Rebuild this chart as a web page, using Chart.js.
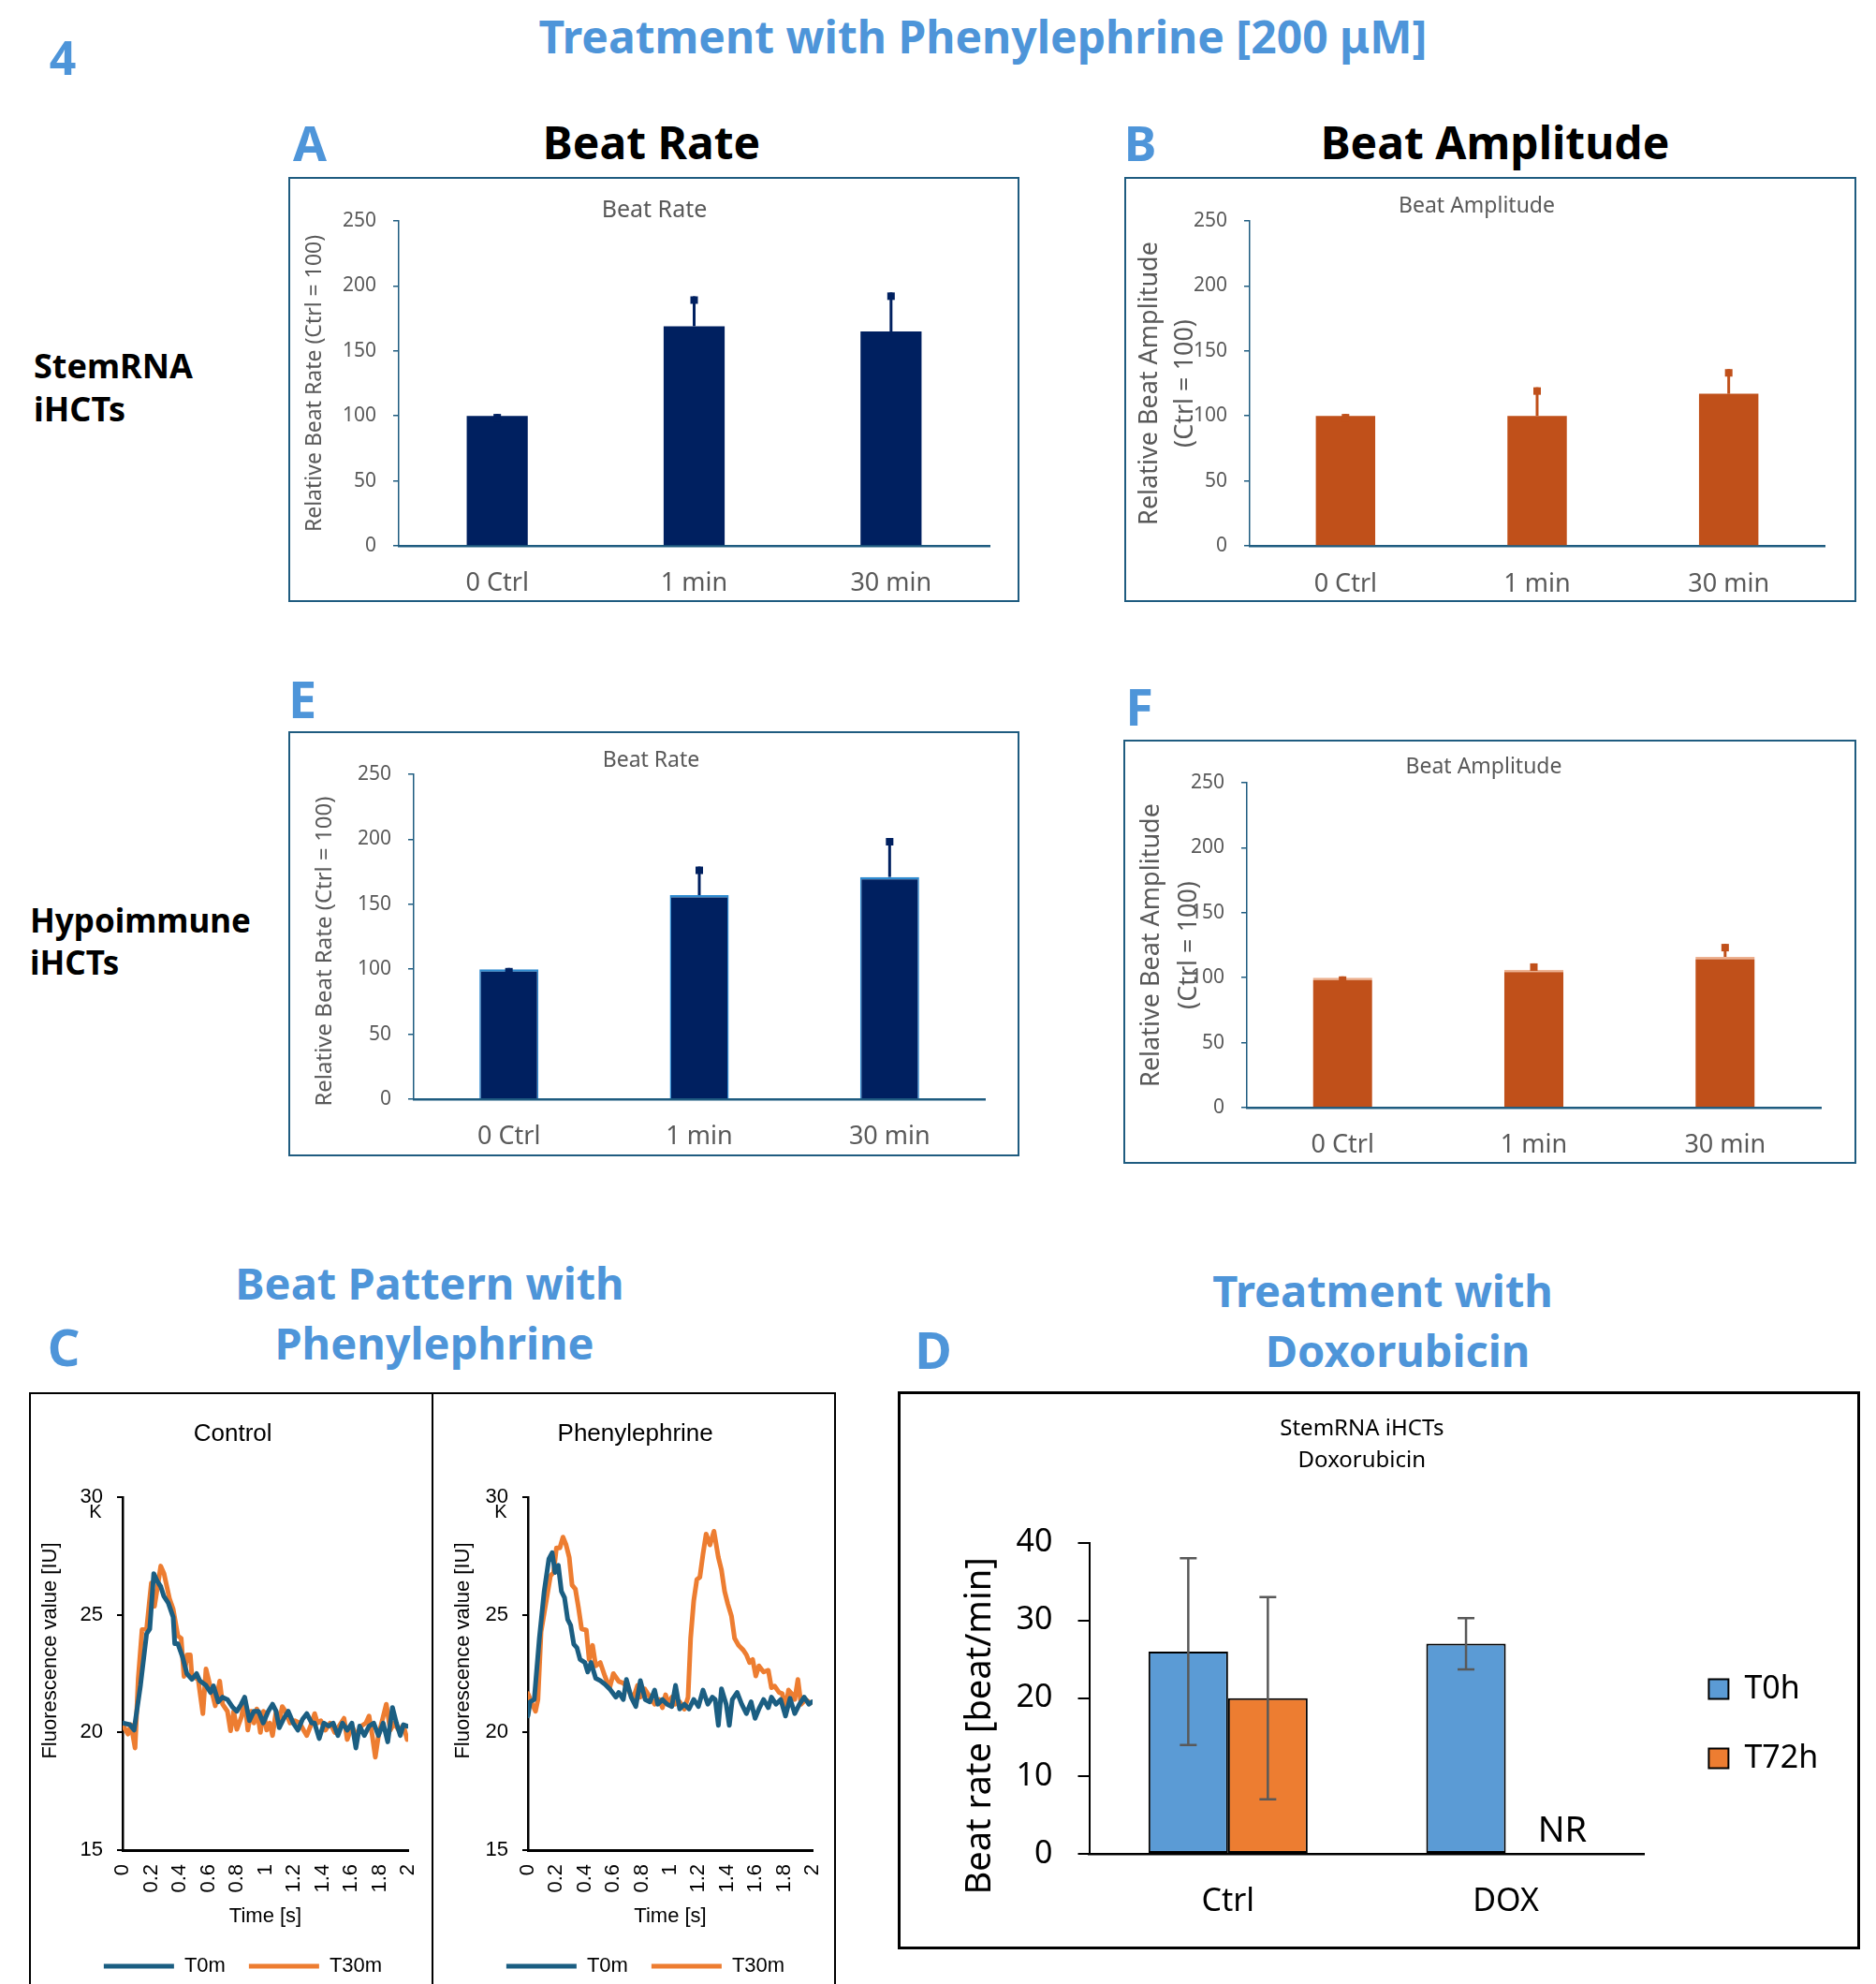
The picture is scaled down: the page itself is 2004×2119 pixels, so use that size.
<!DOCTYPE html>
<html>
<head>
<meta charset="utf-8">
<script src="https://cdn.jsdelivr.net/npm/chart.js@4.4.1/dist/chart.umd.min.js"></script>
<style>
  html, body { margin: 0; padding: 0; background: #fff; overflow: hidden; width: 2004px; height: 2119px; }
  .t { position: absolute; white-space: nowrap; line-height: 1; font-family: "Noto Sans", sans-serif; }
  .c { transform: translate(-50%, -50%); }
  .l { transform: translate(0, -50%); }
  .blue { color: #4E95D9; font-weight: 700; }
  .blk { color: #000; font-weight: 700; }
  .box { position: absolute; box-sizing: border-box; }
  canvas { position: absolute; }
</style>
</head>
<body>
<div class="t c blue" style="left:67px;top:61px;font-size:50px">4</div>
<div class="t c blue" style="left:1050px;top:39px;font-size:48px">Treatment with Phenylephrine [200 μM]</div>
<div class="t c blue" style="left:331px;top:152px;font-size:52px">A</div>
<div class="t c blk" style="left:696px;top:152px;font-size:48px">Beat Rate</div>
<div class="t c blue" style="left:1218px;top:152px;font-size:52px">B</div>
<div class="t c blk" style="left:1597px;top:152px;font-size:48px">Beat Amplitude</div>
<div class="t l blk" style="left:36px;top:391px;font-size:36px">StemRNA</div>
<div class="t l blk" style="left:36px;top:437px;font-size:36px">iHCTs</div>
<div class="t c blue" style="left:323px;top:746px;font-size:54px">E</div>
<div class="t c blue" style="left:1217px;top:754px;font-size:54px">F</div>
<div class="t l blk" style="left:32px;top:982px;font-size:35px">Hypoimmune</div>
<div class="t l blk" style="left:32px;top:1027px;font-size:35px">iHCTs</div>
<div class="t c blue" style="left:459px;top:1370px;font-size:47px">Beat Pattern with</div>
<div class="t c blue" style="left:464px;top:1434px;font-size:47px">Phenylephrine</div>
<div class="t c blue" style="left:68px;top:1438px;font-size:54px">C</div>
<div class="t c blue" style="left:1477px;top:1378px;font-size:47px">Treatment with</div>
<div class="t c blue" style="left:1493px;top:1442px;font-size:47px">Doxorubicin</div>
<div class="t c blue" style="left:997px;top:1441px;font-size:54px">D</div>

<div class="box" style="left:308px;top:189px;width:781px;height:454px;border:2px solid #1F5C80"></div>
<div class="box" style="left:1201px;top:189px;width:782px;height:454px;border:2px solid #1F5C80"></div>
<div class="box" style="left:308px;top:781px;width:781px;height:454px;border:2px solid #1F5C80"></div>
<div class="box" style="left:1200px;top:790px;width:783px;height:453px;border:2px solid #1F5C80"></div>
<div class="box" style="left:31px;top:1487px;width:432px;height:700px;border:2.5px solid #000"></div>
<div class="box" style="left:461px;top:1487px;width:432px;height:700px;border:2.5px solid #000"></div>
<div class="box" style="left:959px;top:1486px;width:1028px;height:596px;border:3px solid #000"></div>

<script>
// panels A, B, E, F
const cats = ['0 Ctrl', '1 min', '30 min'];
const stemRate = [100, 169, 165];
const stemRateErr = [1.5, 23, 30];
const stemAmp = [100, 100, 117];
const stemAmpErr = [1.5, 22, 19];
const hypoRate = [100, 157, 171];
const hypoRateErr = [1, 22, 30];
const hypoAmp = [100, 106, 116];
const hypoAmpErr = [1, 5, 10];
const relTicks = [0, 50, 100, 150, 200, 250];

// panel C, fluorescence traces (time in s, value in thousands IU)
const timeTicks = [0, 0.2, 0.4, 0.6, 0.8, 1, 1.2, 1.4, 1.6, 1.8, 2];
const ctrlT0mTime = [0, 0.05, 0.08, 0.125, 0.168, 0.19, 0.218, 0.245, 0.267, 0.288, 0.32, 0.354, 0.365, 0.387, 0.42, 0.45, 0.485, 0.518, 0.54, 0.584, 0.616, 0.636, 0.67, 0.70, 0.734, 0.767, 0.80, 0.83, 0.855, 0.888, 0.92, 0.952, 0.985, 1.02, 1.05, 1.075, 1.097, 1.13, 1.16, 1.195, 1.228, 1.26, 1.29, 1.325, 1.344, 1.377, 1.41, 1.442, 1.475, 1.508, 1.54, 1.573, 1.606, 1.634, 1.66, 1.693, 1.726, 1.759, 1.792, 1.825, 1.857, 1.89, 1.918, 1.945, 1.967, 1.993];
const ctrlT0mVal = [20.4, 20.33, 20.1, 22.0, 24.2, 24.4, 26.75, 26.4, 26.2, 25.8, 25.5, 24.9, 23.77, 23.77, 23.2, 22.5, 22.26, 22.5, 22.2, 22.0, 21.7, 21.98, 21.3, 21.5, 21.4, 21.1, 20.9, 21.2, 21.5, 20.5, 20.9, 20.9, 20.4, 20.9, 21.2, 20.9, 20.2, 20.6, 20.9, 20.4, 20.1, 20.56, 20.8, 20.4, 20.4, 19.74, 20.4, 20.27, 20.4, 19.87, 20.4, 20.1, 20.4, 19.34, 20.27, 19.87, 20.27, 20.4, 19.87, 20.4, 19.6, 21.06, 20.4, 19.87, 20.33, 20.27];
const ctrlT30mTime = [0, 0.037, 0.059, 0.087, 0.109, 0.136, 0.168, 0.201, 0.223, 0.267, 0.29, 0.328, 0.354, 0.387, 0.41, 0.43, 0.452, 0.474, 0.485, 0.529, 0.562, 0.584, 0.616, 0.636, 0.649, 0.68, 0.70, 0.734, 0.756, 0.778, 0.80, 0.833, 0.855, 0.877, 0.90, 0.92, 0.94, 0.965, 0.987, 1.009, 1.03, 1.05, 1.075, 1.097, 1.118, 1.14, 1.173, 1.206, 1.24, 1.27, 1.29, 1.325, 1.345, 1.365, 1.388, 1.42, 1.453, 1.486, 1.519, 1.551, 1.573, 1.606, 1.639, 1.672, 1.704, 1.726, 1.748, 1.77, 1.792, 1.818, 1.847, 1.875, 1.901, 1.934, 1.967, 1.993];
const ctrlT30mVal = [20.33, 19.93, 20.33, 19.34, 22.26, 24.37, 24.4, 26.35, 25.36, 27.07, 26.75, 25.69, 25.24, 24.1, 24.0, 22.38, 23.3, 23.3, 22.4, 22.26, 20.8, 22.7, 21.9, 21.46, 21.13, 22.18, 21.2, 20.9, 20.07, 20.9, 20.13, 20.67, 21.46, 20.1, 20.9, 20.4, 21.0, 20.0, 20.9, 20.1, 20.4, 19.87, 20.9, 20.4, 21.1, 20.9, 20.4, 20.5, 20.4, 20.07, 19.87, 20.4, 20.8, 20.4, 20.5, 20.1, 20.4, 20.0, 20.3, 20.6, 19.7, 20.27, 19.87, 20.27, 20.4, 20.7, 19.9, 18.95, 19.87, 20.5, 21.2, 20.1, 20.4, 20.1, 20.3, 19.7];
const pheT0mTime = [0, 0.015, 0.044, 0.08, 0.114, 0.147, 0.17, 0.19, 0.213, 0.235, 0.257, 0.279, 0.3, 0.322, 0.344, 0.366, 0.4, 0.42, 0.443, 0.476, 0.508, 0.54, 0.574, 0.618, 0.638, 0.67, 0.692, 0.725, 0.758, 0.79, 0.824, 0.857, 0.89, 0.912, 0.945, 0.978, 1.011, 1.037, 1.066, 1.099, 1.132, 1.165, 1.198, 1.23, 1.264, 1.296, 1.316, 1.338, 1.36, 1.393, 1.415, 1.436, 1.47, 1.502, 1.535, 1.568, 1.596, 1.623, 1.656, 1.689, 1.711, 1.743, 1.776, 1.81, 1.842, 1.875, 1.908, 1.941, 1.974, 1.996];
const pheT0mVal = [20.7, 21.3, 21.4, 24.0, 26.0, 27.38, 27.64, 26.8, 27.1, 26.0, 25.73, 24.8, 24.55, 23.75, 23.6, 23.1, 22.97, 22.57, 22.97, 22.3, 22.2, 22.05, 21.85, 21.5, 21.7, 21.4, 22.25, 21.5, 21.1, 22.2, 21.4, 21.3, 21.8, 21.2, 21.4, 21.2, 21.1, 22.0, 21.0, 21.2, 21.0, 21.4, 21.1, 21.8, 21.2, 21.5, 21.4, 20.3, 21.85, 21.2, 20.3, 21.4, 21.7, 21.2, 20.8, 21.3, 20.6, 21.0, 21.4, 21.05, 21.5, 21.2, 21.4, 20.7, 21.45, 20.8, 21.2, 21.5, 21.2, 21.3];
const pheT30mTime = [0, 0.026, 0.053, 0.07, 0.092, 0.125, 0.158, 0.18, 0.2, 0.224, 0.246, 0.268, 0.29, 0.31, 0.333, 0.355, 0.377, 0.41, 0.43, 0.454, 0.476, 0.508, 0.54, 0.574, 0.6, 0.638, 0.67, 0.70, 0.737, 0.77, 0.79, 0.82, 0.857, 0.89, 0.922, 0.945, 0.967, 0.989, 1.011, 1.033, 1.066, 1.099, 1.125, 1.143, 1.165, 1.187, 1.208, 1.23, 1.252, 1.279, 1.307, 1.338, 1.36, 1.382, 1.404, 1.43, 1.452, 1.48, 1.513, 1.535, 1.557, 1.579, 1.601, 1.623, 1.656, 1.689, 1.711, 1.733, 1.765, 1.787, 1.81, 1.831, 1.853, 1.875, 1.897, 1.919, 1.952, 1.985];
const pheT30mVal = [21.65, 21.25, 20.9, 21.4, 24.28, 25.47, 26.65, 26.8, 27.84, 27.84, 28.3, 27.97, 27.44, 26.26, 26.1, 25.3, 24.4, 24.35, 23.1, 23.7, 22.83, 22.97, 22.4, 21.9, 22.5, 22.17, 22.1, 21.9, 21.4, 22.0, 21.5, 21.85, 21.5, 21.2, 21.4, 21.05, 21.6, 21.2, 21.5, 21.2, 21.3, 20.99, 21.5, 24.0, 25.6, 26.5, 26.6, 27.58, 28.43, 27.97, 28.55, 27.44, 26.9, 26.0, 25.47, 24.95, 24.0, 23.7, 23.5, 23.3, 22.97, 23.1, 22.4, 22.83, 22.57, 22.64, 21.9, 21.97, 21.7, 21.65, 21.0, 21.8, 21.65, 21.4, 22.25, 21.2, 21.4, 21.25];

// panel D
const doxCats = ['Ctrl', 'DOX'];
const doxT0h = [26, 27];
const doxT0hErr = [12, 3.3];
const doxT72h = [20, null];
const doxT72hErr = [13, null];

const NOTO = '"Noto Sans", sans-serif';
const LIB = '"Liberation Sans", Arial, sans-serif';
const GREY = '#595959';
const AXIS = '#1F5C80';

function mkCanvas(x, y, w, h) {
  const cv = document.createElement('canvas');
  cv.width = w; cv.height = h;
  cv.style.left = x + 'px'; cv.style.top = y + 'px';
  cv.style.width = w + 'px'; cv.style.height = h + 'px';
  document.body.appendChild(cv);
  return cv;
}

const errorBars = {
  id: 'errBars',
  afterDatasetsDraw(chart, args, opts) {
    const ctx = chart.ctx;
    const ys = chart.scales.y;
    chart.data.datasets.forEach((ds, i) => {
      if (!ds.errorBars) return;
      chart.getDatasetMeta(i).data.forEach((bar, j) => {
        const v = ds.data[j], e = ds.errorBars[j];
        if (v == null || e == null) return;
        const top = ys.getPixelForValue(v + e);
        const bot = ys.getPixelForValue(opts.both ? v - e : v);
        ctx.save();
        ctx.strokeStyle = opts.color;
        ctx.fillStyle = opts.color;
        ctx.lineWidth = opts.width;
        ctx.beginPath();
        ctx.moveTo(bar.x, bot);
        ctx.lineTo(bar.x, top);
        if (!opts.square) {
          ctx.moveTo(bar.x - opts.cap / 2, top); ctx.lineTo(bar.x + opts.cap / 2, top);
          ctx.moveTo(bar.x - opts.cap / 2, bot); ctx.lineTo(bar.x + opts.cap / 2, bot);
        }
        ctx.stroke();
        if (opts.square) ctx.fillRect(bar.x - opts.square / 2, top, opts.square, opts.square);
        ctx.restore();
      });
    });
  }
};

function relPanel(o) {
  const cv = mkCanvas(o.x, o.y, o.w, o.h);
  const yLine = o.yFont * o.yLH;
  new Chart(cv, {
    type: 'bar',
    data: {
      labels: cats,
      datasets: [{
        data: o.values, errorBars: o.errs,
        backgroundColor: o.color, borderColor: o.edge, borderWidth: o.edgeW,
        barPercentage: 1, categoryPercentage: 0.31
      }]
    },
    options: {
      responsive: false, animation: false,
      // left padding only centres the title over (PL..R)
      layout: { padding: { left: o.PL, right: o.w - o.R, top: 0, bottom: 0 } },
      plugins: {
        legend: { display: false }, tooltip: { enabled: false },
        title: {
          display: true, text: o.title, color: GREY,
          font: { family: NOTO, size: o.tFont, weight: 'normal', lineHeight: 1.2 },
          padding: { top: o.tc - 0.6 * o.tFont, bottom: o.T - o.tc - 0.6 * o.tFont }
        },
        errBars: { color: o.color, width: 3, square: 8 }
      },
      scales: {
        x: {
          grid: { display: false, drawTicks: false },
          border: { color: AXIS, width: 2.5 },
          ticks: { color: GREY, font: { family: NOTO, size: 27 }, padding: o.lc - o.B - 16.2 },
          afterFit: s => { s.height = o.h - o.B; }
        },
        y: {
          min: 0, max: 250,
          afterBuildTicks: s => { s.ticks = relTicks.map(v => ({ value: v })); },
          ticks: { color: GREY, font: { family: NOTO, size: 21 }, padding: 18 },
          grid: { drawOnChartArea: false, drawTicks: true, tickLength: 6, color: AXIS, lineWidth: 1.5 },
          border: { color: AXIS, width: 1.5 },
          title: {
            display: true, text: o.yTitle, color: GREY,
            font: { family: NOTO, size: o.yFont, lineHeight: o.yLH },
            padding: { top: o.yc - o.PL - yLine / 2, bottom: 0 }
          },
          afterFit: s => { s.width = o.L - o.PL; }
        }
      }
    },
    plugins: [errorBars]
  });
}

// geometry is relative to each canvas: L/R/T/B plot edges, tc title centre, lc label centre, yc y-title centre
relPanel({ x: 308, y: 189, w: 781, h: 454, L: 118, R: 749, T: 47, B: 394, PL: 33, tc: 36, lc: 434, yc: 28.5,
  title: 'Beat Rate', tFont: 25, values: stemRate, errs: stemRateErr, color: '#002060', edge: '#002060', edgeW: 0,
  yTitle: 'Relative Beat Rate (Ctrl = 100)', yFont: 23, yLH: 1.2 });
relPanel({ x: 1201, y: 189, w: 782, h: 454, L: 134, R: 748, T: 47, B: 394, PL: 5, tc: 31, lc: 435, yc: 27,
  title: 'Beat Amplitude', tFont: 23, values: stemAmp, errs: stemAmpErr, color: '#C0501A', edge: '#C0501A', edgeW: 0,
  yTitle: ['Relative Beat Amplitude', '(Ctrl = 100)'], yFont: 27, yLH: 1.41 });
relPanel({ x: 308, y: 781, w: 781, h: 454, L: 134, R: 744, T: 46, B: 393, PL: 31, tc: 31, lc: 433, yc: 39,
  title: 'Beat Rate', tFont: 23, values: hypoRate, errs: hypoRateErr, color: '#002060', edge: '#2E8BD0',
  edgeW: { top: 2.5, left: 1.5, right: 1.5, bottom: 0 },
  yTitle: 'Relative Beat Rate (Ctrl = 100)     ', yFont: 24, yLH: 1.2 });
relPanel({ x: 1200, y: 790, w: 783, h: 453, L: 132, R: 745, T: 46, B: 393, PL: 25, tc: 29, lc: 433, yc: 30,
  title: 'Beat Amplitude', tFont: 23, values: hypoAmp, errs: hypoAmpErr, color: '#C0501A', edge: '#EDB08F',
  edgeW: { top: 2.5, left: 0, right: 0, bottom: 0 },
  yTitle: ['Relative Beat Amplitude', '(Ctrl = 100)'], yFont: 27, yLH: 1.48 });

function points(ts, vs) { return ts.map((t, i) => ({ x: t, y: vs[i] })); }

function tracePanel(o) {
  const cv = mkCanvas(o.x, o.y, o.w, o.h);
  const line = (label, ts, vs, col) => ({
    label, data: points(ts, vs), borderColor: col, backgroundColor: col, borderWidth: 5,
    pointRadius: 0, borderCapStyle: 'round', borderJoinStyle: 'round', tension: 0
  });
  new Chart(cv, {
    type: 'line',
    data: { datasets: [
      line('T0m', o.t0t, o.t0v, '#1B5E82'),
      line('T30m', o.t30t, o.t30v, '#ED7D31')
    ] },
    options: {
      responsive: false, animation: false,
      // left padding centres the bottom legend
      layout: { padding: { left: o.PL, right: o.w - o.R, top: 0, bottom: 0 } },
      plugins: {
        tooltip: { enabled: false },
        title: {
          display: true, text: o.title, color: '#000',
          font: { family: LIB, size: 26, weight: 'normal', lineHeight: 1.2 },
          padding: { top: 43 - 15.6, bottom: o.T - 43 - 15.6 }
        },
        legend: {
          position: 'bottom',
          labels: {
            usePointStyle: true, pointStyle: 'line', pointStyleWidth: 75, padding: 25,
            color: '#000', font: { family: LIB, size: 22 }
          }
        }
      },
      scales: {
        x: {
          type: 'linear', min: 0, max: 2,
          afterBuildTicks: s => { s.ticks = timeTicks.map(v => ({ value: v })); },
          ticks: {
            autoSkip: false, minRotation: 90, maxRotation: 90, padding: 15,
            color: '#000', font: { family: LIB, size: 22 },
            callback: v => String(+v.toFixed(1))
          },
          grid: { display: false, drawTicks: false },
          border: { color: '#000', width: 3 },
          title: { display: true, text: 'Time [s]', color: '#000', font: { family: LIB, size: 22 }, padding: { top: 0, bottom: 4 } },
          afterFit: s => { s.height = o.h - 57 - o.B; }
        },
        y: {
          min: 15, max: 30,
          ticks: { stepSize: 5, padding: 15, color: '#000', font: { family: LIB, size: 22 } },
          grid: { drawOnChartArea: false, tickLength: 6, color: '#000', lineWidth: 2 },
          border: { color: '#000', width: 2.5 },
          title: {
            display: true, text: '        Fluorescence value [IU]', color: '#000',
            font: { family: LIB, size: 22, lineHeight: 1.2 }, padding: { top: o.yc - o.PL - 13.2, bottom: 0 }
          },
          afterFit: s => { s.width = o.L - o.PL; }
        }
      }
    }
  });
}

tracePanel({ x: 33, y: 1489, w: 474, h: 632, L: 98, R: 403, T: 110, B: 487, PL: 50, yc: 21,
  title: 'Control   ', t0t: ctrlT0mTime, t0v: ctrlT0mVal, t30t: ctrlT30mTime, t30v: ctrlT30mVal });
tracePanel({ x: 464, y: 1489, w: 453, h: 632, L: 100, R: 404, T: 110, B: 487, PL: 47, yc: 31,
  title: 'Phenylephrine   ', t0t: pheT0mTime, t0v: pheT0mVal, t30t: pheT30mTime, t30v: pheT30mVal });

// panel D
(function () {
  const W = 1028, L = 204.5, R = 798.5, T = 161.5, B = 494, legendLeft = 827;
  const cv = mkCanvas(959, 1486, W, 596);
  const chart = new Chart(cv, {
    type: 'bar',
    data: {
      labels: doxCats,
      datasets: [
        { label: 'T0h', data: doxT0h, errorBars: doxT0hErr, yAxisID: 'y', backgroundColor: '#5B9BD5',
          borderColor: '#000', borderWidth: 2, borderSkipped: false, barPercentage: 1, categoryPercentage: 0.573 },
        { label: 'T72h', data: doxT72h, errorBars: doxT72hErr, yAxisID: 'y', backgroundColor: '#ED7D31',
          borderColor: '#000', borderWidth: 2, borderSkipped: false, barPercentage: 1, categoryPercentage: 0.573 }
      ]
    },
    options: {
      responsive: false, animation: false,
      layout: { padding: { left: 0, right: 40, top: 0, bottom: 0 } },
      plugins: {
        tooltip: { enabled: false },
        title: {
          display: true, text: ['StemRNA iHCTs', 'Doxorubicin'], color: '#000',
          font: { family: NOTO, size: 24, weight: 'normal', lineHeight: 1.42 },
          padding: { top: 23, bottom: T - 23 - 2 * 24 * 1.42 }
        },
        legend: {
          position: 'right', fullSize: false,
          title: { display: true, text: '', font: { size: 10, lineHeight: 1 }, padding: { top: 44.5, bottom: 0 } },
          labels: { boxWidth: 21, boxHeight: 21, padding: 40, color: '#000', font: { family: NOTO, size: 34 } }
        },
        errBars: { color: '#595959', width: 2.5, cap: 18, both: true }
      },
      scales: {
        x: {
          grid: { display: false, drawTicks: false },
          border: { color: '#000', width: 2.5 },
          ticks: { color: '#000', font: { family: NOTO, size: 34 }, padding: 31 },
          afterFit: s => { s.height = 596 - B; }
        },
        y: {
          min: 0, max: 40,
          ticks: { stepSize: 10, padding: 27, color: '#000', font: { family: NOTO, size: 34 } },
          grid: { drawOnChartArea: false, tickLength: 12, color: '#000', lineWidth: 2 },
          border: { color: '#000', width: 2 },
          title: {
            display: true, text: 'Beat rate [beat/min]      ', color: '#000',
            font: { family: NOTO, size: 38, lineHeight: 1.2 }, padding: { top: 88 - 22.8, bottom: 0 }
          },
          afterFit: s => { s.width = L; }
        },
        gap: {
          type: 'linear', position: 'right', display: true,
          ticks: { display: false }, grid: { display: false, drawTicks: false }, border: { display: false },
          afterFit: s => { s.width = legendLeft - R; }
        }
      }
    },
    plugins: [errorBars]
  });
  // keep the plot right edge fixed whatever width the legend needs
  chart.options.layout.padding.right = W - legendLeft - chart.legend.width;
  chart.update();
})();
</script>
<div class="t c" style="left:1669px;top:1952px;font-size:38px;color:#000">NR</div>
<div class="t c" style="left:102px;top:1614px;font-size:20px;color:#000;font-family:'Liberation Sans',Arial,sans-serif">K</div>
<div class="t c" style="left:535px;top:1614px;font-size:20px;color:#000;font-family:'Liberation Sans',Arial,sans-serif">K</div>
</body>
</html>
